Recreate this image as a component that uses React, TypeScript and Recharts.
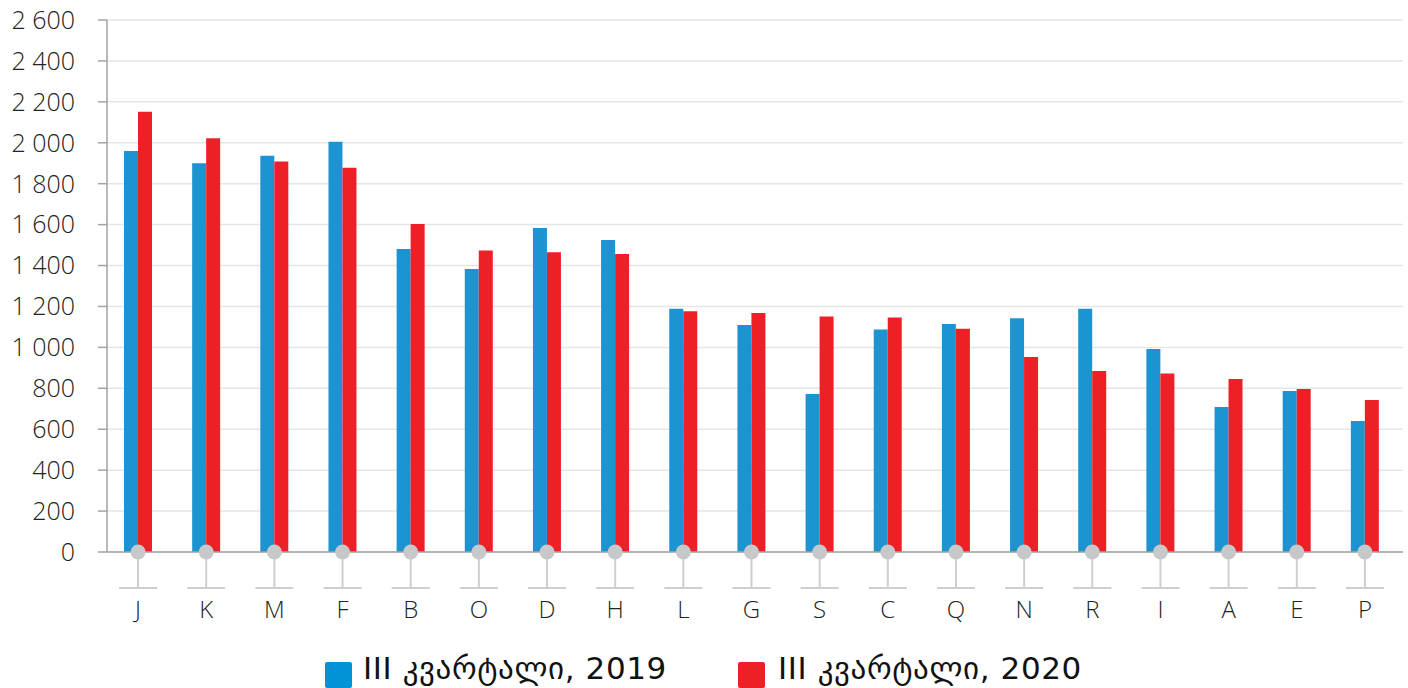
import React from "react"
import { BarChart, Bar, XAxis, YAxis, CartesianGrid } from "recharts"

const categories = ["J", "K", "M", "F", "B", "O", "D", "H", "L", "G", "S", "C", "Q", "N", "R", "I", "A", "E", "P"]
const q3_2019 = [1960, 1900, 1937, 2005, 1481, 1383, 1583, 1525, 1189, 1109, 772, 1087, 1114, 1142, 1189, 992, 709, 787, 640]
const q3_2020 = [2152, 2022, 1908, 1878, 1603, 1473, 1465, 1456, 1177, 1168, 1151, 1146, 1091, 953, 885, 872, 845, 797, 743]
const yTicks = [0, 200, 400, 600, 800, 1000, 1200, 1400, 1600, 1800, 2000, 2200, 2400, 2600]
const seriesNames = ["III კვარტალი, 2019", "III კვარტალი, 2020"]

const data = categories.map((name, i) => ({ name, a: q3_2019[i], b: q3_2020[i] }))

const BLUE = "#1E93D2"
const RED = "#EE2027"
const FONT = "'Open Sans', sans-serif"

// thousands separated with a space, e.g. "2 600"
const fmt = (v: number) => String(v).replace(/\B(?=(\d{3})+(?!\d))/g, " ")

function CategoryTick(props: any) {
  const { x, y, payload } = props
  return (
    <g>
      <line x1={x} y1={y + 6} x2={x} y2={y + 36} stroke="#cfcfcf" strokeWidth={2} />
      <line x1={x - 19} y1={y + 36} x2={x + 19} y2={y + 36} stroke="#cfcfcf" strokeWidth={2} />
      <circle cx={x} cy={y} r={7.5} fill="#c7c8ca" />
      <text x={x} y={y + 66} textAnchor="middle" fontSize={24} fontWeight={300} fill="#222" fontFamily={FONT}>
        {payload.value}
      </text>
    </g>
  )
}

const legendPos = [
  { box: 325, text: 363, color: "#0093D6" },
  { box: 738, text: 778, color: RED },
]

export default function App() {
  return (
    <div style={{ position: "absolute", left: 0, top: 0, width: 1408, height: 688, overflow: "hidden", background: "#fff" }}>
      <BarChart
        width={1408}
        height={688}
        data={data}
        margin={{ top: 20, right: 5, left: 0, bottom: 0 }}
        barGap={0}
        barSize={14}
      >
        <CartesianGrid vertical={false} stroke="#e5e5e5" strokeWidth={1.5} />
        <YAxis
          width={107}
          domain={[0, 2600]}
          ticks={yTicks}
          interval={0}
          tickFormatter={fmt}
          axisLine={{ stroke: "#a3a3a3", strokeWidth: 1.5 }}
          tickLine={{ stroke: "#a3a3a3", strokeWidth: 1.5 }}
          tickSize={9}
          tickMargin={23}
          tick={{ fontSize: 25, fontWeight: 300, fill: "#222", fontFamily: FONT }}
        />
        <Bar dataKey="a" name={seriesNames[0]} fill={BLUE} isAnimationActive={false} />
        <Bar dataKey="b" name={seriesNames[1]} fill={RED} isAnimationActive={false} />
        <XAxis
          dataKey="name"
          height={136}
          interval={0}
          padding={{ left: -3, right: 4 }}
          axisLine={{ stroke: "#a3a3a3", strokeWidth: 1.5 }}
          tickLine={false}
          tickSize={0}
          tickMargin={0}
          tick={<CategoryTick />}
        />
      </BarChart>
      {seriesNames.map((n, i) => (
        <React.Fragment key={n}>
          <div
            style={{
              position: "absolute",
              left: legendPos[i].box,
              top: 662,
              width: 27,
              height: 26,
              borderRadius: 2,
              background: legendPos[i].color,
            }}
          />
          <div
            style={{
              position: "absolute",
              left: legendPos[i].text,
              top: 653,
              fontFamily: "'DejaVu Sans', sans-serif",
              fontSize: 31,
              lineHeight: "31px",
              letterSpacing: 0.6,
              color: "#111",
              whiteSpace: "nowrap",
            }}
          >
            {n}
          </div>
        </React.Fragment>
      ))}
    </div>
  )
}
